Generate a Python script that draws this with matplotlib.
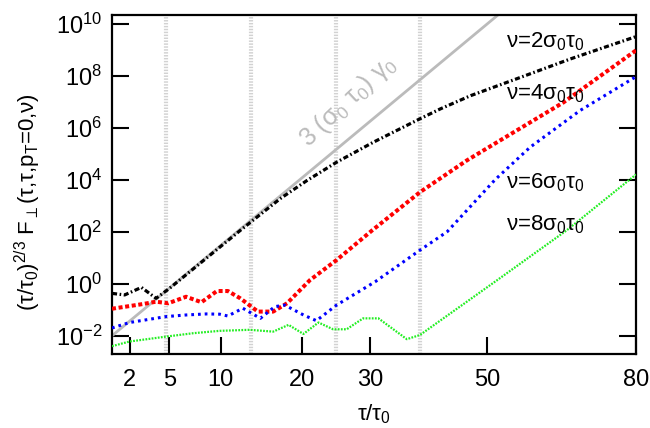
import numpy as np
import matplotlib
matplotlib.use("Agg")
import matplotlib.pyplot as plt
from matplotlib.ticker import FixedLocator, FixedFormatter, LogFormatterMathtext

plt.rcParams['font.family'] = ['Liberation Sans', 'DejaVu Sans']
plt.rcParams['mathtext.fontset'] = 'custom'
plt.rcParams['mathtext.rm'] = 'Liberation Sans'
plt.rcParams['mathtext.it'] = 'Liberation Sans'
plt.rcParams['mathtext.bf'] = 'Liberation Sans:bold'

### curves: tau/tau0 and log10 of the plotted quantity
tau_nu2 = [1.0, 1.7, 2.8, 3.9, 5.0, 12.2, 17.1, 20.7, 24.9, 30.5, 38.1, 41.6, 47.0,
           56.3, 66.2, 80.0]
log_nu2 = [-0.37, -0.43, -0.14, -0.56, -0.18, 2.05, 3.27, 3.97, 4.67, 5.44, 6.34, 6.72,
           7.23, 7.93, 8.64, 9.50]

tau_nu4 = [1.0, 2.9, 3.9, 4.9, 6.5, 8.0, 9.6, 10.8, 12.2, 14.3, 16.2, 18.0, 21.1, 24.9,
           30.3, 38.1, 46.3, 55.0, 64.8, 80.0]
log_nu4 = [-0.96, -0.78, -0.69, -0.75, -0.50, -0.71, -0.28, -0.28, -0.56, -1.07, -1.07,
           -0.75, 0.14, 0.91, 2.05, 3.52, 4.74, 5.82, 6.97, 8.97]

tau_nu6 = [1.0, 2.0, 4.75, 6.5, 8.5, 9.9, 10.8, 12.5, 14.6, 16.4, 17.7, 20.2, 22.0, 24.9,
           30.8, 38.1, 42.8, 51.5, 58.2, 68.2, 80.0]
log_nu6 = [-1.7, -1.49, -1.26, -1.20, -1.16, -1.17, -1.24, -0.94, -1.33, -0.88, -0.82,
           -1.20, -1.42, -0.82, 0.08, 1.29, 2.0, 4.0, 5.25, 6.66, 7.96]

tau_nu8 = [1.0, 2.0, 4.75, 7.2, 9.9, 13.3, 16.2, 18.2, 20.2, 22.3, 24.4, 26.4, 28.9,
           31.3, 35.9, 38.1, 51.9, 65.5, 80.0]
log_nu8 = [-2.4, -2.22, -2.03, -1.90, -1.81, -1.77, -1.84, -1.58, -1.93, -1.49, -1.75,
           -1.75, -1.33, -1.33, -2.13, -1.97, 0.14, 2.06, 4.2]

# straight reference line 3 (sigma0 tau0) gamma0
tau_ref = [1.0, 80.0]
log_ref = [-2.0, 14.74]

# dotted vertical markers
tau_vlines = [4.75, 13.45, 24.8, 38.1]

xticks = [2, 5, 10, 20, 30, 50, 80]
labels = [r'ν=2σ$_0$τ$_0$', r'ν=4σ$_0$τ$_0$', r'ν=6σ$_0$τ$_0$', r'ν=8σ$_0$τ$_0$']
label_log = [9.08, 7.10, 3.65, 2.06]


def fwd(x):
    return np.sign(x) * np.abs(x) ** (2.0 / 3.0)


def inv(u):
    return np.sign(u) * np.abs(u) ** 1.5


fig = plt.figure(figsize=(6.5, 4.28), dpi=100)
ax = fig.add_axes([0.1723, 0.1729, 0.8062, 0.7921])
ax.set_xscale('function', functions=(fwd, inv))
ax.set_yscale('log')

for t in tau_vlines:
    ax.axvline(t, color='#d2d2d2', lw=3.0, ls=(0, (0.35, 0.35)), zorder=1)

ax.plot(tau_ref, 10.0 ** np.array(log_ref), color='#bbbbbb', lw=2.0, zorder=2)

ax.plot(tau_nu2, 10.0 ** np.array(log_nu2), color='black', lw=2.3,
        ls=(0, (1.6, 0.8, 0.5, 0.8)), zorder=5)
ax.plot(tau_nu4, 10.0 ** np.array(log_nu4), color='#ff0000', lw=2.9,
        ls=(0, (1.0, 0.65)), zorder=4)
ax.plot(tau_nu6, 10.0 ** np.array(log_nu6), color='#0000ff', lw=2.2,
        ls=(0, (0.9, 1.3)), zorder=4)
ax.plot(tau_nu8, 10.0 ** np.array(log_nu8), color='#22ee22', lw=1.6,
        ls=(0, (0.8, 0.6)), zorder=3)

ax.set_xlim(1, 80)
ax.set_ylim(10 ** -2.7, 10 ** 10.33)

ax.xaxis.set_major_locator(FixedLocator(xticks))
ax.xaxis.set_major_formatter(FixedFormatter([str(v) for v in xticks]))
ax.xaxis.set_minor_locator(FixedLocator([]))
ax.yaxis.set_major_locator(FixedLocator([10.0 ** k for k in range(-2, 11, 2)]))
ax.yaxis.set_major_formatter(LogFormatterMathtext())
ax.yaxis.set_minor_locator(FixedLocator([]))

ax.tick_params(axis='both', direction='in', length=12.5, width=1.5, labelsize=17)
ax.tick_params(axis='x', pad=11)
ax.tick_params(axis='y', right=True, pad=7)
for s in ax.spines.values():
    s.set_linewidth(1.6)

ax.set_xlabel(r'τ/τ$_0$', fontsize=16, labelpad=8)
fig.text(0.043, 1 - 202 / 428, r'(τ/τ$_0$)$^{2/3}$ F$_{\perp}$(τ,τ,p$_{T}$=0,ν)',
         rotation=90, ha='center', va='center', fontsize=16)

for txt, ty in zip(labels, label_log):
    ax.text(53.5, 10 ** ty, txt, fontsize=16, ha='left', va='baseline', zorder=6)

ax.text(26.6, 10 ** 7.0, r'3 (σ$_0$ τ$_0$) γ$_0$', color='#bbbbbb', fontsize=18,
        rotation=43, ha='center', va='center', zorder=2)

fig.savefig('out.png', dpi=100)
